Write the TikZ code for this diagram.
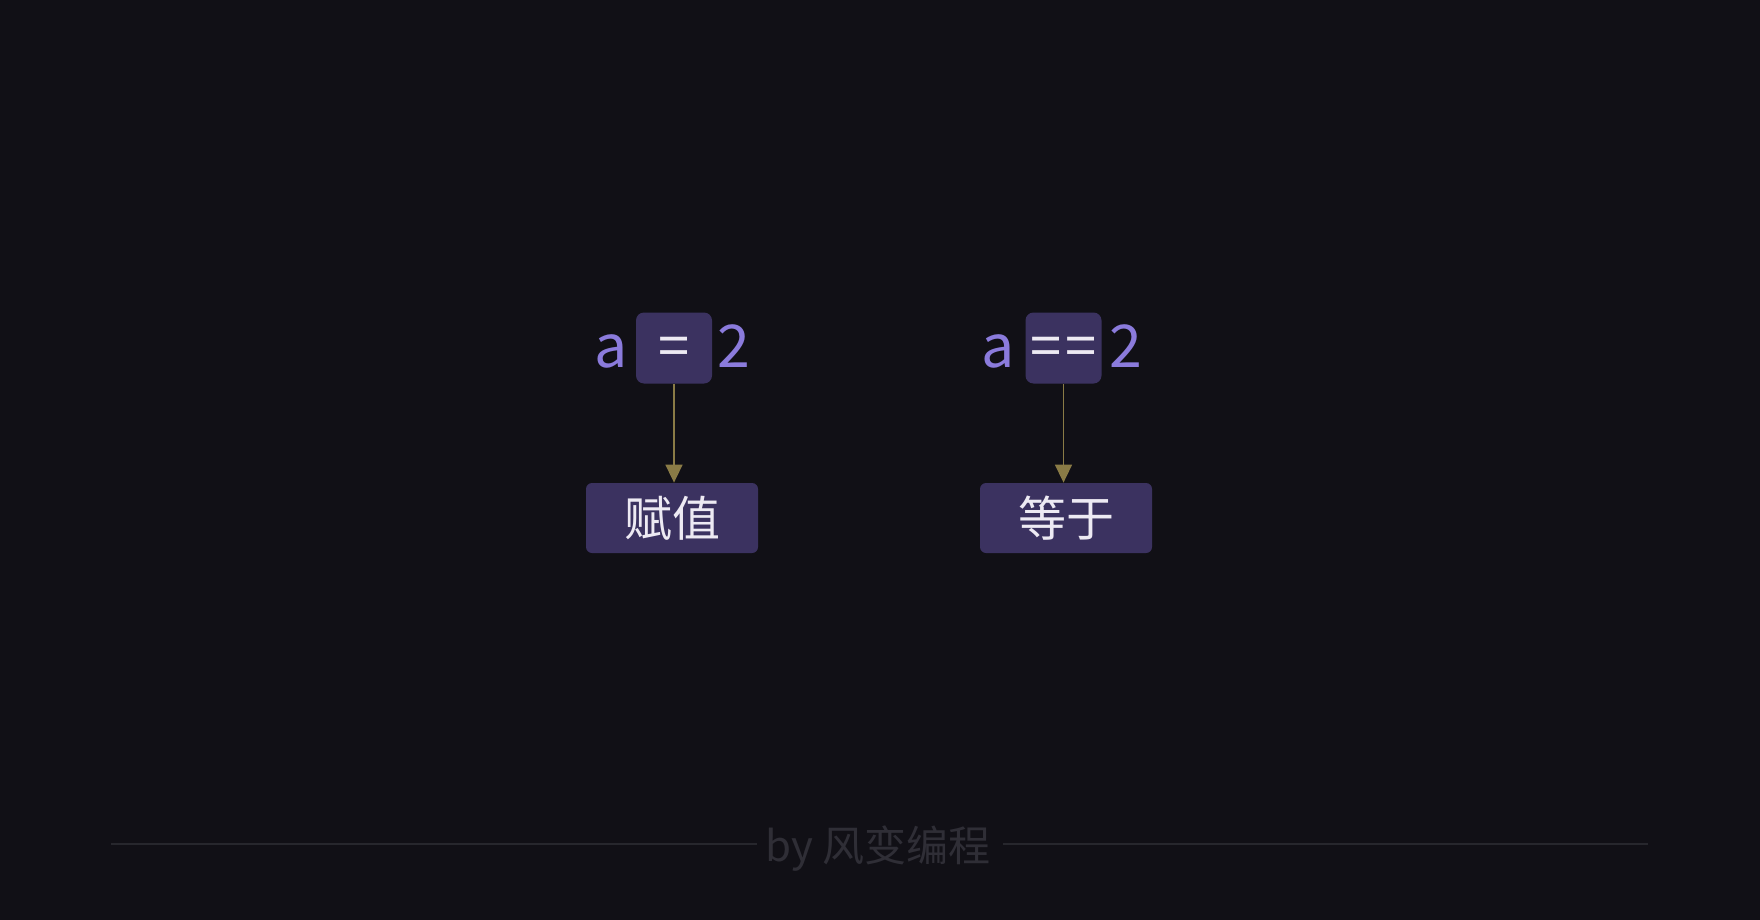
\documentclass[tikz,border=0pt]{standalone}
\usepackage{fontspec}
\newfontfamily\cjk{Noto Sans CJK SC}
\usetikzlibrary{arrows.meta}
\definecolor{bgc}{HTML}{111016}
\definecolor{boxc}{HTML}{3B3260}
\definecolor{purp}{HTML}{8B7BDC}
\definecolor{whitec}{HTML}{EDEAF3}
\definecolor{arrc}{HTML}{8A7B46}
\definecolor{footl}{HTML}{27272D}
\definecolor{foott}{HTML}{2F2E36}
\tikzset{
  x=0.5pt, y=-0.5pt,
  opbox/.style={fill=boxc, rounded corners=4pt, minimum width=38pt, minimum height=35.5pt, inner sep=0pt},
  optext/.style={inner sep=0pt, text=whitec, font=\cjk\fontsize{28pt}{28pt}\selectfont},
  wordbox/.style={fill=boxc, rounded corners=3pt, minimum width=86pt, minimum height=35pt, inner sep=0pt, text=whitec, font=\cjk\fontsize{24pt}{24pt}\selectfont},
  operand/.style={anchor=base, inner sep=0pt, text=purp, font=\cjk\fontsize{29.5pt}{29.5pt}\selectfont},
  conn/.style={draw=arrc, line width=0.8pt, -{Triangle[width=8.5pt,length=9pt]}},
  footline/.style={draw=footl, line width=1pt},
  foottext/.style={text=foott, inner sep=0pt, font=\cjk\fontsize{21pt}{21pt}\selectfont}
}
\begin{document}
\begin{tikzpicture}
\fill[bgc] (0,0) rectangle (1760,920);
\useasboundingbox (0,0) rectangle (1760,920);
% left group
\node[opbox] (eq1) at (674,348) {};
\node[optext] (e1) at (674,352) {=};
\node[operand] (a1) at (611,367) {a};
\node[operand] (n1) at (734,367) {2};
\node[wordbox] (w1) at (672,518) {赋值};
\draw[conn] (eq1.south) -- (eq1.south |- w1.north);
% right group
\node[opbox] (eq2) at (1063.5,348) {};
\node[optext] (e2) at (1063.5,352) {=\kern2pt=};
\node[operand] (a2) at (998,367) {a};
\node[operand] (n2) at (1126,367) {2};
\node[wordbox] (w2) at (1066,518) {等于};
\draw[conn] (eq2.south) -- (eq2.south |- w2.north);
% footer
\node[foottext] (ft) at (878,849) {by 风变编程};
\coordinate (l1) at (111,844);
\coordinate (l2) at (757,844);
\coordinate (r1) at (1003,844);
\coordinate (r2) at (1648,844);
\draw[footline] (l1) -- (l2);
\draw[footline] (r1) -- (r2);
\end{tikzpicture}
\end{document}
